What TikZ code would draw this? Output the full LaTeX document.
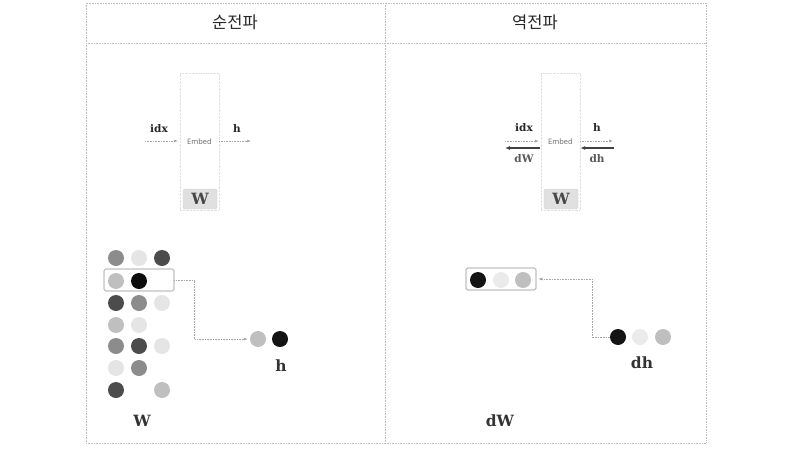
\documentclass[tikz,border=0pt]{standalone}
\usepackage{fontspec}
\newfontfamily\korfont{Noto Sans CJK KR}
\newfontfamily\embedfont{Open Sans}
\newfontfamily\lblfont{DejaVu Serif}
\usetikzlibrary{arrows.meta}
\begin{document}
\begin{tikzpicture}[x=1pt,y=-1pt]
	\tikzstyle{frame}=[draw=black!25, densely dotted, line width=0.6pt]
	\tikzstyle{title}=[font=\korfont\fontsize{16.5}{16.5}\selectfont, text=black!85]
	\tikzstyle{embed}=[draw=black!12, densely dotted, minimum width=39pt, minimum height=137pt, inner sep=0pt]
	\tikzstyle{embedtext}=[font=\embedfont\fontsize{7.5}{7.5}\selectfont, text=black!60]
	\tikzstyle{wbox}=[fill=black!12, draw=black!18, rounded corners=1.5pt, minimum width=34pt, minimum height=20pt, font=\lblfont\bfseries\fontsize{15.5}{15.5}\selectfont, text=black!72]
	\tikzstyle{lbl}=[font=\lblfont\bfseries\fontsize{10.5}{10.5}\selectfont, text=black!85]
	\tikzstyle{glbl}=[font=\lblfont\bfseries\fontsize{10.5}{10.5}\selectfont, text=black!65]
	\tikzstyle{big}=[font=\lblfont\bfseries\fontsize{15.5}{15.5}\selectfont, text=black!80]
	\tikzstyle{fwd}=[draw=black!35, densely dotted, line width=0.6pt, -{Latex[length=4pt,width=3pt]}, shorten >=2pt]
	\tikzstyle{bwd}=[draw=black!75, line width=1.2pt, -{Latex[length=5pt,width=4pt]}, shorten <=1pt]
	\tikzstyle{dot}=[circle, inner sep=0pt, minimum size=16pt]
	\tikzstyle{rowbox}=[draw=black!45, rounded corners=1.5pt, line width=0.6pt, minimum width=70pt, minimum height=22pt, inner sep=0pt]
	\tikzstyle{link}=[draw=black!35, densely dotted, line width=0.6pt, -{Latex[length=4pt,width=3pt]}, shorten >=2pt]
	\useasboundingbox (0,0) rectangle (791,455);

	\draw[frame] (86,3) rectangle (706,443);
	\draw[frame] (86,43) -- (706,43);
	\draw[frame] (385,3) -- (385,443);
	\node[title] (fwdtitle) at (235,22) {순전파};
	\node[title] (bwdtitle) at (535,22) {역전파};

	\node[embed] (embedL) at (199.5,141.5) {};
	\node[embedtext] (embedLtxt) at (199.5,142) {Embed};
	\node[wbox] (wL) at (200,199) {W};
	\coordinate (idxLin) at (145,141);
	\coordinate (hLout) at (253,141);
	\draw[fwd] (idxLin) -- (embedL.west |- idxLin);
	\draw[fwd] (embedL.east |- idxLin) -- (hLout);
	\node[lbl] (idxL) at (159,129) {idx};
	\node[lbl] (hL) at (237,129) {h};

	\node[embed] (embedR) at (560.5,141.5) {};
	\node[embedtext] (embedRtxt) at (560.5,142) {Embed};
	\node[wbox] (wR) at (561,199) {W};
	\coordinate (idxRin) at (505,141);
	\coordinate (hRout) at (615,141);
	\coordinate (dWout) at (505,148);
	\coordinate (dhin) at (615,148);
	\draw[fwd] (idxRin) -- (embedR.west |- idxRin);
	\draw[fwd] (embedR.east |- idxRin) -- (hRout);
	\draw[bwd] (embedR.west |- dWout) -- (dWout);
	\draw[bwd] (dhin) -- (embedR.east |- dhin);
	\node[lbl] (idxR) at (524,128) {idx};
	\node[lbl] (hR) at (597,128) {h};
	\node[glbl] (dWR) at (524,159) {dW};
	\node[glbl] (dhR) at (597,159) {dh};

	\foreach \y/\a/\b/\c [count=\r] in {258/45/10/70, 281/25/95/0, 303/70/45/10, 325/25/10/0, 346/45/70/10, 368/10/45/0, 390/70/0/25} {
		\node[dot, fill=black!\a] (w\r-1) at (116,\y) {};
		\node[dot, fill=black!\b] (w\r-2) at (139,\y) {};
		\node[dot, fill=black!\c] (w\r-3) at (162,\y) {};
	}
	\node[rowbox] (sel) at (139,280) {};
	\node[big] (Wlbl) at (142,421) {W};
	\node[dot, fill=black!25] (h1) at (258,339) {};
	\node[dot, fill=black!92] (h2) at (280,339) {};
	\node[big] (hlbl) at (281,366) {h};
	\draw[link] (sel.east) -- ++(20,0) |- (h1.west);

	\node[rowbox] (dwrow) at (501,279) {};
	\node[dot, fill=black!92] (dw1) at (478,280) {};
	\node[dot, fill=black!8] (dw2) at (501,280) {};
	\node[dot, fill=black!25] (dw3) at (523,280) {};
	\node[dot, fill=black!92] (dh1) at (618,337) {};
	\node[dot, fill=black!8] (dh2) at (640,337) {};
	\node[dot, fill=black!25] (dh3) at (663,337) {};
	\node[big] (dhlbl) at (642,363) {dh};
	\node[big] (dWlbl) at (500,421) {dW};
	\draw[link] (dh1.west) -- ++(-18,0) |- (dwrow.east);
\end{tikzpicture}
\end{document}
